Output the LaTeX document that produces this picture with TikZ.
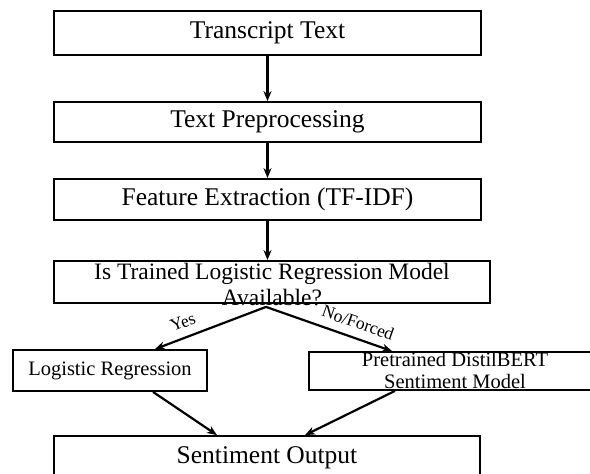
\documentclass[tikz,border=0pt]{standalone}
\usepackage{fontspec}
\setmainfont{Liberation Serif}
\usetikzlibrary{arrows.meta,calc}
\begin{document}
\begin{tikzpicture}[x=1pt,y=-1pt,
    box/.style={draw,line width=1.8pt,inner sep=0pt},
    flow/.style={line width=2.2pt,-{Stealth[length=10pt,width=8pt]}},
    bigtext/.style={font=\fontsize{25.5}{28}\selectfont},
    midtext/.style={font=\fontsize{23.5}{26}\selectfont},
    smalltext/.style={font=\fontsize{20.5}{22}\selectfont},
    edgetext/.style={font=\fontsize{17.5}{19}\selectfont}]
    \useasboundingbox (0,0) rectangle (590,474);
    % main steps
    \node [box,bigtext,minimum width=427pt,minimum height=44pt] (transcript) at (267.5,33) {Transcript Text};
    \node [box,bigtext,minimum width=427pt,minimum height=40pt] (prep) at (267.5,122) {Text Preprocessing};
    \node [box,bigtext,minimum width=427pt,minimum height=41pt] (tfidf) at (267.5,199.5) {Feature Extraction (TF-IDF)};
    % decision
    \node [box,minimum width=436pt,minimum height=42pt] (check) at (272,282) {};
    \node [midtext,align=center,inner sep=0pt] (checktext) at (272,285) {Is Trained Logistic Regression Model\\Available?};
    % the two models
    \node [box,smalltext,minimum width=194pt,minimum height=41pt] (logreg) at (110,370.5) {Logistic Regression};
    \node [box,minimum width=292pt,minimum height=38pt] (bert) at (455,371) {};
    \node [smalltext,align=center,inner sep=0pt] (berttext) at (455,370) {Pretrained DistilBERT\\Sentiment Model};
    % result
    \node [box,bigtext,minimum width=426pt,minimum height=44pt] (output) at (267,458) {Sentiment Output};
    % arrows
    \draw [flow] (transcript) -- (prep);
    \draw [flow] (prep) -- (tfidf);
    \draw [flow] (tfidf.south) -- (tfidf.south |- check.north);
    \coordinate (split) at ($(check.south)+(-6,3)$);
    \draw [flow] (split) -- node [edgetext,sloped,above=5pt,pos=0.7] (yes) {Yes} ($(logreg.north)+(45,0)$);
    \draw [flow] (split) -- node [edgetext,sloped,above=5pt,pos=0.69] (forced) {No/Forced} ($(bert.north)+(-63,0)$);
    \draw [flow] ($(logreg.south)+(43,0)$) -- ($(output.north)+(-50,0)$);
    \draw [flow] ($(bert.south)+(-60,0)$) -- ($(output.north)+(38,0)$);
\end{tikzpicture}
\end{document}
